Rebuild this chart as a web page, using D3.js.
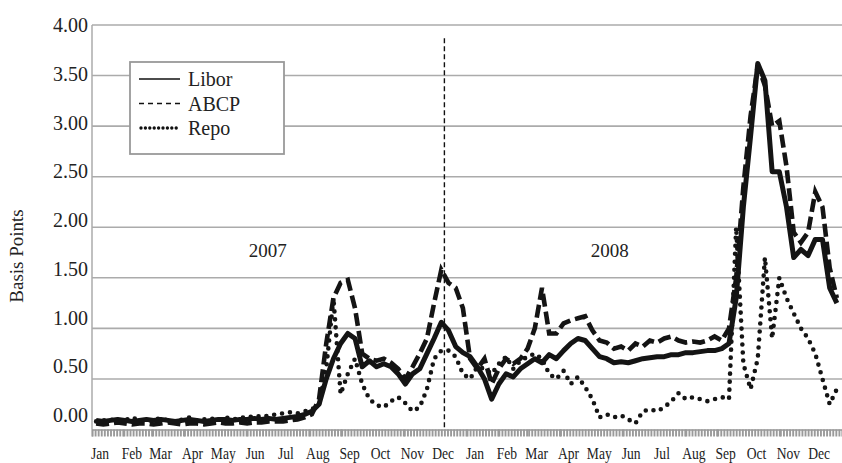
<!DOCTYPE html>
<html>
<head>
<meta charset="utf-8">
<script src="https://cdn.jsdelivr.net/npm/d3@7"></script>
<style>
  body { margin: 0; background: #fff; }
  svg { display: block; font-family: "Liberation Serif", "DejaVu Serif", serif; }
</style>
</head>
<body>
<div id="chart"></div>
<script>
// weekly observations, Jan 2007 - Dec 2008 (Fridays)
const firstWeek = new Date(2007, 0, 5);
const weekCount = 104;

const libor = [
  0.09, 0.08, 0.09, 0.10, 0.09, 0.08, 0.09, 0.10, 0.09, 0.10, 0.09, 0.08, 0.09,
  0.10, 0.09, 0.08, 0.09, 0.10, 0.10, 0.09, 0.10, 0.10, 0.11, 0.10, 0.11, 0.10,
  0.11, 0.12, 0.13, 0.15, 0.18, 0.25, 0.50, 0.70, 0.85, 0.95, 0.90, 0.62, 0.68,
  0.62, 0.65, 0.62, 0.55, 0.45, 0.55, 0.60, 0.75, 0.90, 1.06, 0.98, 0.82, 0.76,
  0.72, 0.62, 0.50, 0.30, 0.45, 0.55, 0.52, 0.60, 0.65, 0.70, 0.66, 0.74, 0.70,
  0.78, 0.85, 0.90, 0.88, 0.80, 0.72, 0.70, 0.66, 0.67, 0.66, 0.68, 0.70, 0.71,
  0.72, 0.72, 0.74, 0.74, 0.76, 0.76, 0.77, 0.78, 0.78, 0.80, 0.85, 1.30, 2.20,
  2.90, 3.62, 3.45, 2.55, 2.55, 2.20, 1.70, 1.78, 1.72, 1.88, 1.88, 1.40, 1.25
];
const abcp = [
  0.06, 0.05, 0.06, 0.07, 0.06, 0.05, 0.06, 0.06, 0.05, 0.06, 0.07, 0.06, 0.05,
  0.06, 0.06, 0.05, 0.06, 0.07, 0.06, 0.06, 0.07, 0.06, 0.07, 0.07, 0.08, 0.08,
  0.08, 0.09, 0.10, 0.12, 0.15, 0.30, 0.85, 1.30, 1.45, 1.48, 1.20, 0.75, 0.70,
  0.68, 0.70, 0.66, 0.60, 0.50, 0.62, 0.75, 0.90, 1.25, 1.58, 1.45, 1.40, 1.20,
  0.70, 0.60, 0.70, 0.45, 0.60, 0.70, 0.65, 0.70, 0.80, 1.00, 1.40, 0.95, 0.95,
  1.05, 1.08, 1.10, 1.12, 0.98, 0.88, 0.86, 0.80, 0.82, 0.78, 0.85, 0.82, 0.88,
  0.86, 0.90, 0.92, 0.88, 0.86, 0.87, 0.86, 0.88, 0.92, 0.88, 1.00, 1.50, 2.40,
  3.10, 3.60, 3.40, 3.00, 3.05, 2.60, 1.95, 1.85, 1.95, 2.35, 2.20, 1.60, 1.30
];
const repo = [
  0.08, 0.09, 0.10, 0.08, 0.09, 0.12, 0.09, 0.08, 0.10, 0.11, 0.09, 0.08, 0.10,
  0.12, 0.09, 0.10, 0.11, 0.09, 0.12, 0.10, 0.11, 0.13, 0.12, 0.14, 0.13, 0.15,
  0.16, 0.17, 0.16, 0.18, 0.20, 0.25, 0.60, 1.30, 0.35, 0.55, 0.70, 0.45, 0.30,
  0.24, 0.22, 0.28, 0.32, 0.26, 0.18, 0.22, 0.40, 0.70, 0.78, 0.78, 0.72, 0.55,
  0.50, 0.62, 0.60, 0.55, 0.65, 0.72, 0.60, 0.68, 0.72, 0.75, 0.70, 0.55, 0.50,
  0.58, 0.45, 0.52, 0.42, 0.30, 0.12, 0.15, 0.12, 0.14, 0.10, 0.06, 0.18, 0.20,
  0.18, 0.22, 0.28, 0.36, 0.30, 0.32, 0.30, 0.28, 0.30, 0.32, 0.30, 2.00, 0.65,
  0.40, 0.70, 1.70, 0.90, 1.50, 1.30, 1.15, 1.00, 0.90, 0.75, 0.50, 0.25, 0.40
];

const seriesNames = ["Libor", "ABCP", "Repo"];
const monthNames = ["Jan", "Feb", "Mar", "Apr", "May", "Jun",
                    "Jul", "Aug", "Sep", "Oct", "Nov", "Dec"];
const yTicks = [0, 0.5, 1, 1.5, 2, 2.5, 3, 3.5, 4];
const yearLabels = [
  { text: "2007", date: new Date(2007, 5, 21) },
  { text: "2008", date: new Date(2008, 4, 19) }
];
const dividerDate = new Date(2007, 11, 10);

const width = 842, height = 463;
const svg = d3.select("#chart").append("svg")
  .attr("width", width)
  .attr("height", height);

const dates = d3.range(weekCount).map(i => d3.timeDay.offset(firstWeek, 7 * i));

const x = d3.scaleTime()
  .domain([new Date(2007, 0, 1), new Date(2008, 11, 31)])
  .range([92, 842]);
const y = d3.scaleLinear().domain([0, 4]).range([429.5, 25]);
// the printed tick labels sit a little off the gridlines in the original
const yLabel = d3.scaleLinear().domain([0, 4]).range([415, 25]);

// gridlines
svg.append("g")
  .selectAll("line")
  .data(yTicks.slice(1))
  .join("line")
  .attr("x1", 92).attr("x2", 842)
  .attr("y1", d => y(d)).attr("y2", d => y(d))
  .attr("stroke", "#ababab")
  .attr("stroke-width", 1.6);

// y axis line
svg.append("line")
  .attr("x1", 92).attr("x2", 92)
  .attr("y1", y(4)).attr("y2", y(0))
  .attr("stroke", "#ababab")
  .attr("stroke-width", 1.5);

// y labels
svg.append("g")
  .selectAll("text")
  .data(yTicks)
  .join("text")
  .attr("x", 88)
  .attr("y", d => yLabel(d))
  .attr("dy", "0.35em")
  .attr("text-anchor", "end")
  .style("font-size", "20px")
  .style("fill", "#222")
  .text(d => d.toFixed(2));

// x axis: dense minor ticks band
const xAxis = d3.axisBottom(x)
  .ticks(d3.timeDay.every(3))
  .tickSize(7)
  .tickFormat("");
const gx = svg.append("g")
  .attr("transform", `translate(0,${y(0)})`)
  .call(xAxis);
gx.select(".domain").attr("stroke", "#999").attr("stroke-width", 1.5);
gx.selectAll(".tick line").attr("stroke", "#9a9a9a").attr("stroke-width", 1.9);

// month labels
const months = d3.timeMonth.range(new Date(2007, 0, 1), new Date(2009, 0, 1));
svg.append("g")
  .selectAll("text")
  .data(months)
  .join("text")
  .attr("transform", d => `translate(${x(d) + 8},459) scale(0.8,1)`)
  .attr("text-anchor", "middle")
  .style("font-size", "17px")
  .style("fill", "#222")
  .text(d => monthNames[d.getMonth()]);

// axis title
svg.append("text")
  .attr("transform", "translate(23,256) rotate(-90)")
  .attr("text-anchor", "middle")
  .style("font-size", "19px")
  .style("fill", "#222")
  .text("Basis Points");

// year labels
svg.append("g")
  .selectAll("text")
  .data(yearLabels)
  .join("text")
  .attr("x", d => x(d.date))
  .attr("y", y(1.71))
  .attr("text-anchor", "middle")
  .style("font-size", "19px")
  .style("fill", "#222")
  .text(d => d.text);

// year divider
svg.append("line")
  .attr("x1", x(dividerDate)).attr("x2", x(dividerDate))
  .attr("y1", y(3.87)).attr("y2", y(0))
  .attr("stroke", "#111")
  .attr("stroke-width", 1.4)
  .attr("stroke-dasharray", "5,3");

// series
const line = d3.line()
  .x((d, i) => x(dates[i]))
  .y(d => y(d));

svg.append("path")
  .datum(abcp)
  .attr("d", line)
  .attr("fill", "none")
  .attr("stroke", "#141414")
  .attr("stroke-width", 4.6)
  .attr("stroke-dasharray", "13,5");

svg.append("path")
  .datum(repo)
  .attr("d", line)
  .attr("fill", "none")
  .attr("stroke", "#141414")
  .attr("stroke-width", 4.6)
  .attr("stroke-linecap", "round")
  .attr("stroke-dasharray", "0,8");

svg.append("path")
  .datum(libor)
  .attr("d", line)
  .attr("fill", "none")
  .attr("stroke", "#141414")
  .attr("stroke-width", 5)
  .attr("stroke-linejoin", "round");

// legend
const legend = svg.append("g").attr("transform", "translate(130,62)");
legend.append("rect")
  .attr("width", 154).attr("height", 92)
  .attr("fill", "#fff")
  .attr("stroke", "#999")
  .attr("stroke-width", 1.8);

const legendStyles = [
  { dash: null, w: 1.6, cap: "butt" },
  { dash: "5,4", w: 1.6, cap: "butt" },
  { dash: "0,4.4", w: 3.4, cap: "round" }
];
const item = legend.selectAll("g.item")
  .data(seriesNames)
  .join("g")
  .attr("class", "item")
  .attr("transform", (d, i) => `translate(0,${17 + i * 24.5})`);
item.append("line")
  .attr("x1", (d, i) => i === 2 ? 11 : 9)
  .attr("x2", 50)
  .attr("stroke", "#111")
  .attr("stroke-width", (d, i) => legendStyles[i].w)
  .attr("stroke-linecap", (d, i) => legendStyles[i].cap)
  .attr("stroke-dasharray", (d, i) => legendStyles[i].dash);
item.append("text")
  .attr("x", 58)
  .attr("dy", "0.35em")
  .style("font-size", "20px")
  .style("fill", "#222")
  .text(d => d);
</script>
</body>
</html>
